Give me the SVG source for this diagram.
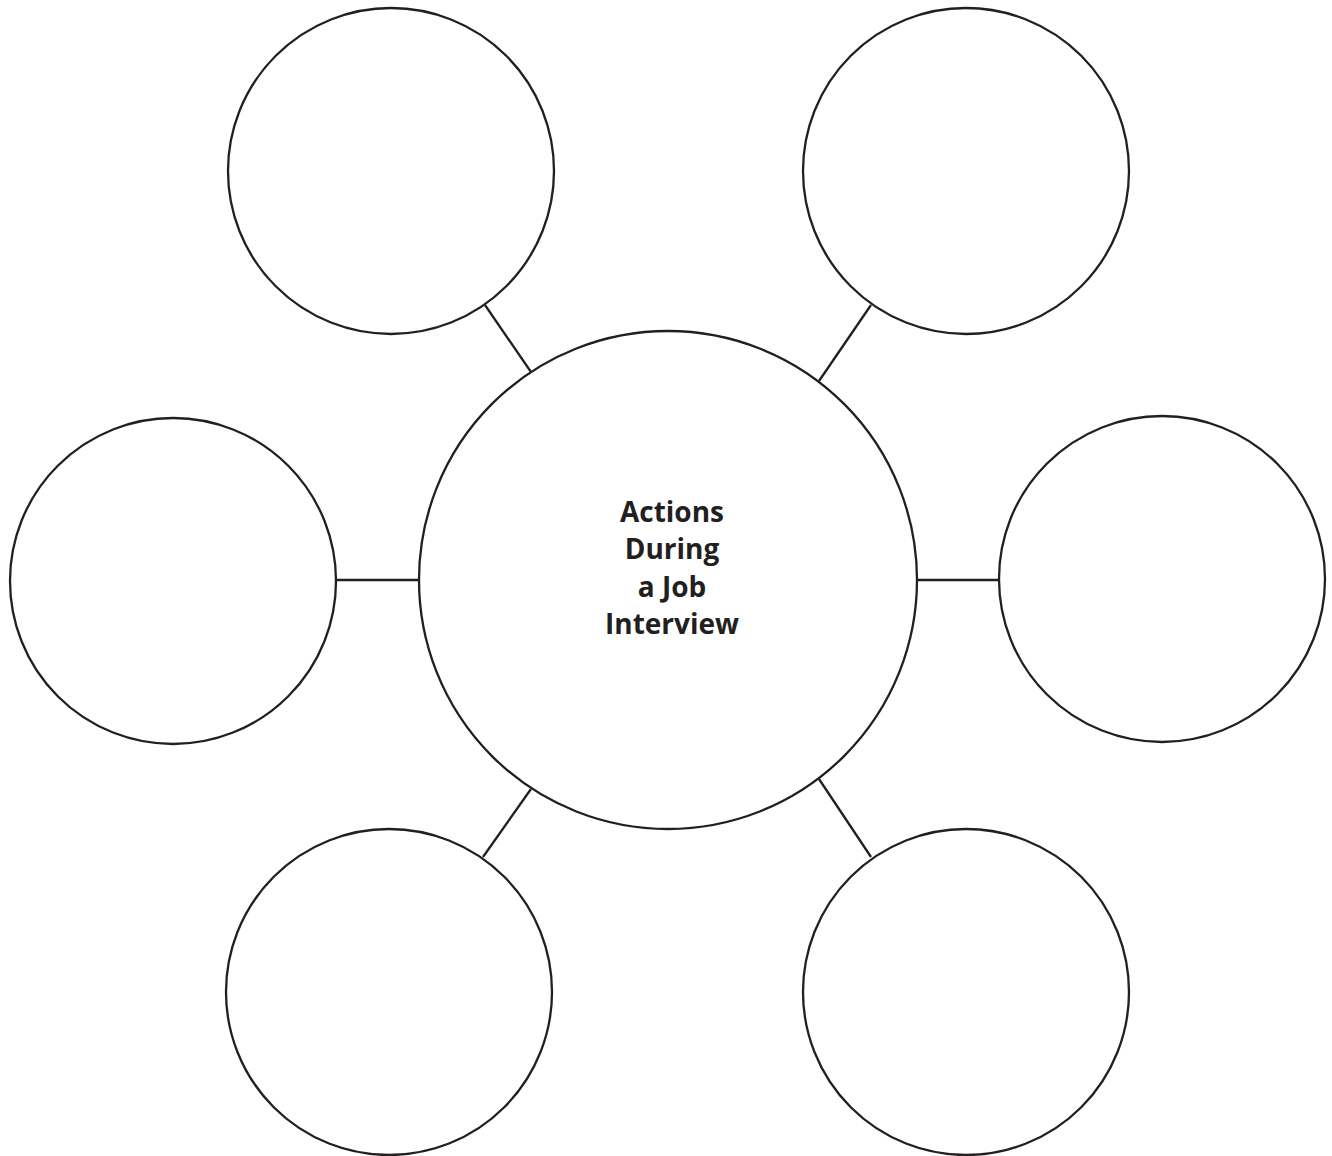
<svg xmlns="http://www.w3.org/2000/svg" width="1332" height="1156" viewBox="0 0 1332 1156">
<style>
.n{fill:#fff;stroke:#231f20;stroke-width:2.3}
.c{stroke:#231f20;stroke-width:2.3;fill:none}
.t{font-family:"Open Sans","Liberation Sans",sans-serif;font-weight:bold;font-size:28px;fill:#231f20;text-anchor:middle}
</style>
<rect width="1332" height="1156" fill="#fff"/>
<g id="connectors">
<line class="c" x1="485" y1="305" x2="531" y2="372"/>
<line class="c" x1="871" y1="305" x2="819" y2="381"/>
<line class="c" x1="336" y1="580" x2="420" y2="580"/>
<line class="c" x1="916" y1="580" x2="999" y2="580"/>
<line class="c" x1="531" y1="789" x2="483" y2="857"/>
<line class="c" x1="819" y1="779" x2="871" y2="857"/>
</g>
<g id="center"><circle class="n" cx="668" cy="580" r="249"/>
<text class="t" x="672" y="522">Actions</text>
<text class="t" x="672" y="559">During</text>
<text class="t" x="672" y="597">a Job</text>
<text class="t" x="672" y="634">Interview</text>
</g>
<g id="top-left"><circle class="n" cx="391" cy="171" r="163"/></g>
<g id="top-right"><circle class="n" cx="966" cy="171" r="163"/></g>
<g id="left"><circle class="n" cx="173" cy="581" r="163"/></g>
<g id="right"><circle class="n" cx="1162" cy="579" r="163"/></g>
<g id="bottom-left"><circle class="n" cx="389" cy="992" r="163"/></g>
<g id="bottom-right"><circle class="n" cx="966" cy="992" r="163"/></g>
</svg>
